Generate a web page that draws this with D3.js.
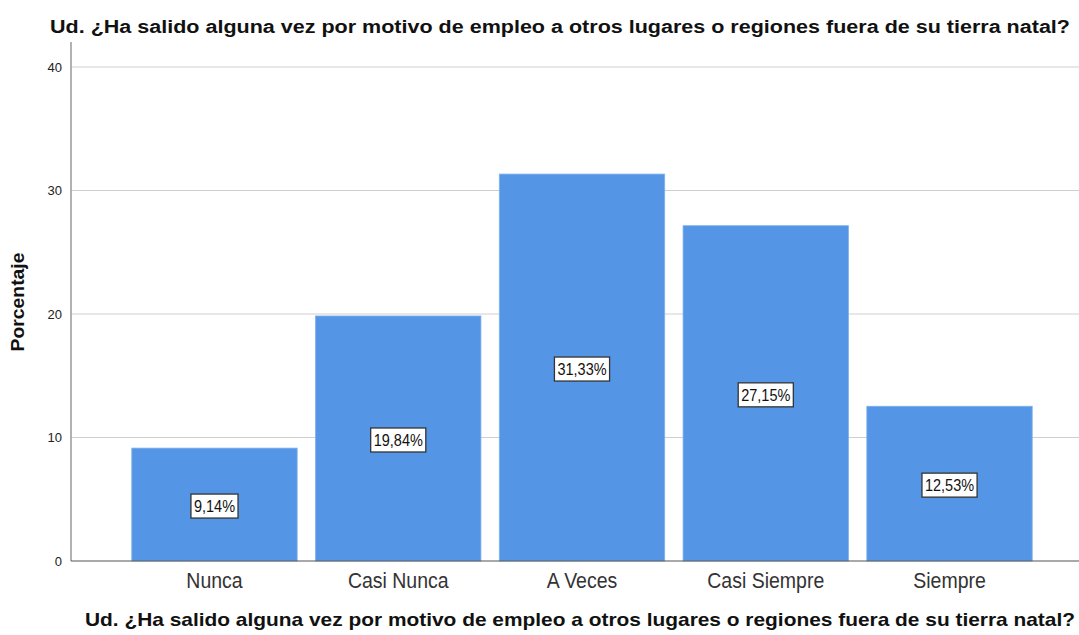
<!DOCTYPE html>
<html>
<head>
<meta charset="utf-8">
<script src="https://cdn.jsdelivr.net/npm/d3@7"></script>
<style>
  body { margin: 0; background: #fff; }
  text { font-family: "Liberation Sans", Arial, sans-serif; }
</style>
</head>
<body>
<div id="chart"></div>
<script>
// data
var categories = ["Nunca", "Casi Nunca", "A Veces", "Casi Siempre", "Siempre"];
var percents = [9.14, 19.84, 31.33, 27.15, 12.53];
var yTicks = [0, 10, 20, 30, 40];
var titleText = "Ud. ¿Ha salido alguna vez por motivo de empleo a otros lugares o regiones fuera de su tierra natal?";

var W = 1079, H = 635;
var plot = {left: 71, right: 1079, top: 42, bottom: 561};

var svg = d3.select("#chart").append("svg")
    .attr("width", W)
    .attr("height", H);

var x = d3.scaleBand()
    .domain(categories)
    .range([122.6, 1041.4])
    .paddingInner(0.1)
    .paddingOuter(0.05);

var y = d3.scaleLinear()
    .domain([0, 40])
    .range([plot.bottom, 67]);

// gridlines
svg.append("g")
    .selectAll("line")
    .data(yTicks.filter(d => d > 0))
    .join("line")
        .attr("x1", plot.left)
        .attr("x2", plot.right)
        .attr("y1", d => y(d))
        .attr("y2", d => y(d))
        .attr("stroke", "#cfcfcf")
        .attr("stroke-width", 1.2);

// bars
svg.append("g")
    .selectAll("rect")
    .data(percents)
    .join("rect")
        .attr("x", (d, i) => x(categories[i]))
        .attr("y", d => y(d))
        .attr("width", x.bandwidth())
        .attr("height", d => y(0) - y(d))
        .attr("fill", "#5595e5")
        .attr("stroke", "#7eb0ee")
        .attr("stroke-width", 0.8);

// y axis
var yAxisG = svg.append("g")
    .attr("transform", "translate(" + plot.left + ",0)")
    .call(d3.axisLeft(y).tickValues(yTicks).tickSize(0).tickPadding(9));
yAxisG.select(".domain").remove();
yAxisG.selectAll("text")
    .attr("font-size", 13)
    .attr("fill", "#222")
    .style("font-family", "Liberation Sans, Arial, sans-serif");

svg.append("line")
    .attr("x1", plot.left).attr("x2", plot.left)
    .attr("y1", plot.top).attr("y2", plot.bottom)
    .attr("stroke", "#999")
    .attr("stroke-width", 1.5);

// x axis
var xAxisG = svg.append("g")
    .attr("transform", "translate(0," + plot.bottom + ")")
    .call(d3.axisBottom(x).tickSize(0).tickPadding(0));
xAxisG.select(".domain").remove();
xAxisG.selectAll("text")
    .attr("font-size", 19.5)
    .attr("fill", "#333")
    .attr("dy", null)
    .attr("y", 0)
    .attr("transform", "translate(0,27) scale(1,1.12)")
    .style("font-family", "Liberation Sans, Arial, sans-serif");

svg.append("line")
    .attr("x1", plot.left).attr("x2", plot.right)
    .attr("y1", plot.bottom).attr("y2", plot.bottom)
    .attr("stroke", "#555")
    .attr("stroke-width", 1.2);

// value labels in boxes, centred at half the bar height
var labels = svg.append("g")
    .selectAll("g")
    .data(percents)
    .join("g")
        .attr("transform", (d, i) => "translate(" + (x(categories[i]) + x.bandwidth() / 2) + "," + (y(d / 2) + 1.5) + ")");

labels.append("text")
    .attr("text-anchor", "middle")
    .attr("transform", "scale(1,1.2)")
    .attr("dy", "0.36em")
    .attr("font-size", 14.5)
    .attr("fill", "#111")
    .text(d => d.toFixed(2).replace(".", ",") + "%");

labels.each(function() {
    var g = d3.select(this);
    var bb = g.select("text").node().getBBox();
    g.insert("rect", "text")
        .attr("x", bb.x - 3)
        .attr("y", -12)
        .attr("width", bb.width + 6)
        .attr("height", 24)
        .attr("fill", "#fff")
        .attr("stroke", "#333")
        .attr("stroke-width", 1.3);
});

// titles
svg.append("text")
    .attr("x", 50)
    .attr("y", 33)
    .attr("font-size", 18)
    .attr("font-weight", "bold")
    .attr("fill", "#111")
    .attr("textLength", 1020)
    .attr("lengthAdjust", "spacingAndGlyphs")
    .text(titleText);

svg.append("text")
    .attr("x", 85)
    .attr("y", 626)
    .attr("font-size", 18.5)
    .attr("font-weight", "bold")
    .attr("fill", "#111")
    .attr("textLength", 990)
    .attr("lengthAdjust", "spacingAndGlyphs")
    .text(titleText);

svg.append("text")
    .attr("transform", "translate(24," + 302 + ") rotate(-90)")
    .attr("text-anchor", "middle")
    .attr("font-size", 19)
    .attr("font-weight", "bold")
    .attr("fill", "#111")
    .attr("textLength", 99)
    .attr("lengthAdjust", "spacingAndGlyphs")
    .text("Porcentaje");
</script>
</body>
</html>
